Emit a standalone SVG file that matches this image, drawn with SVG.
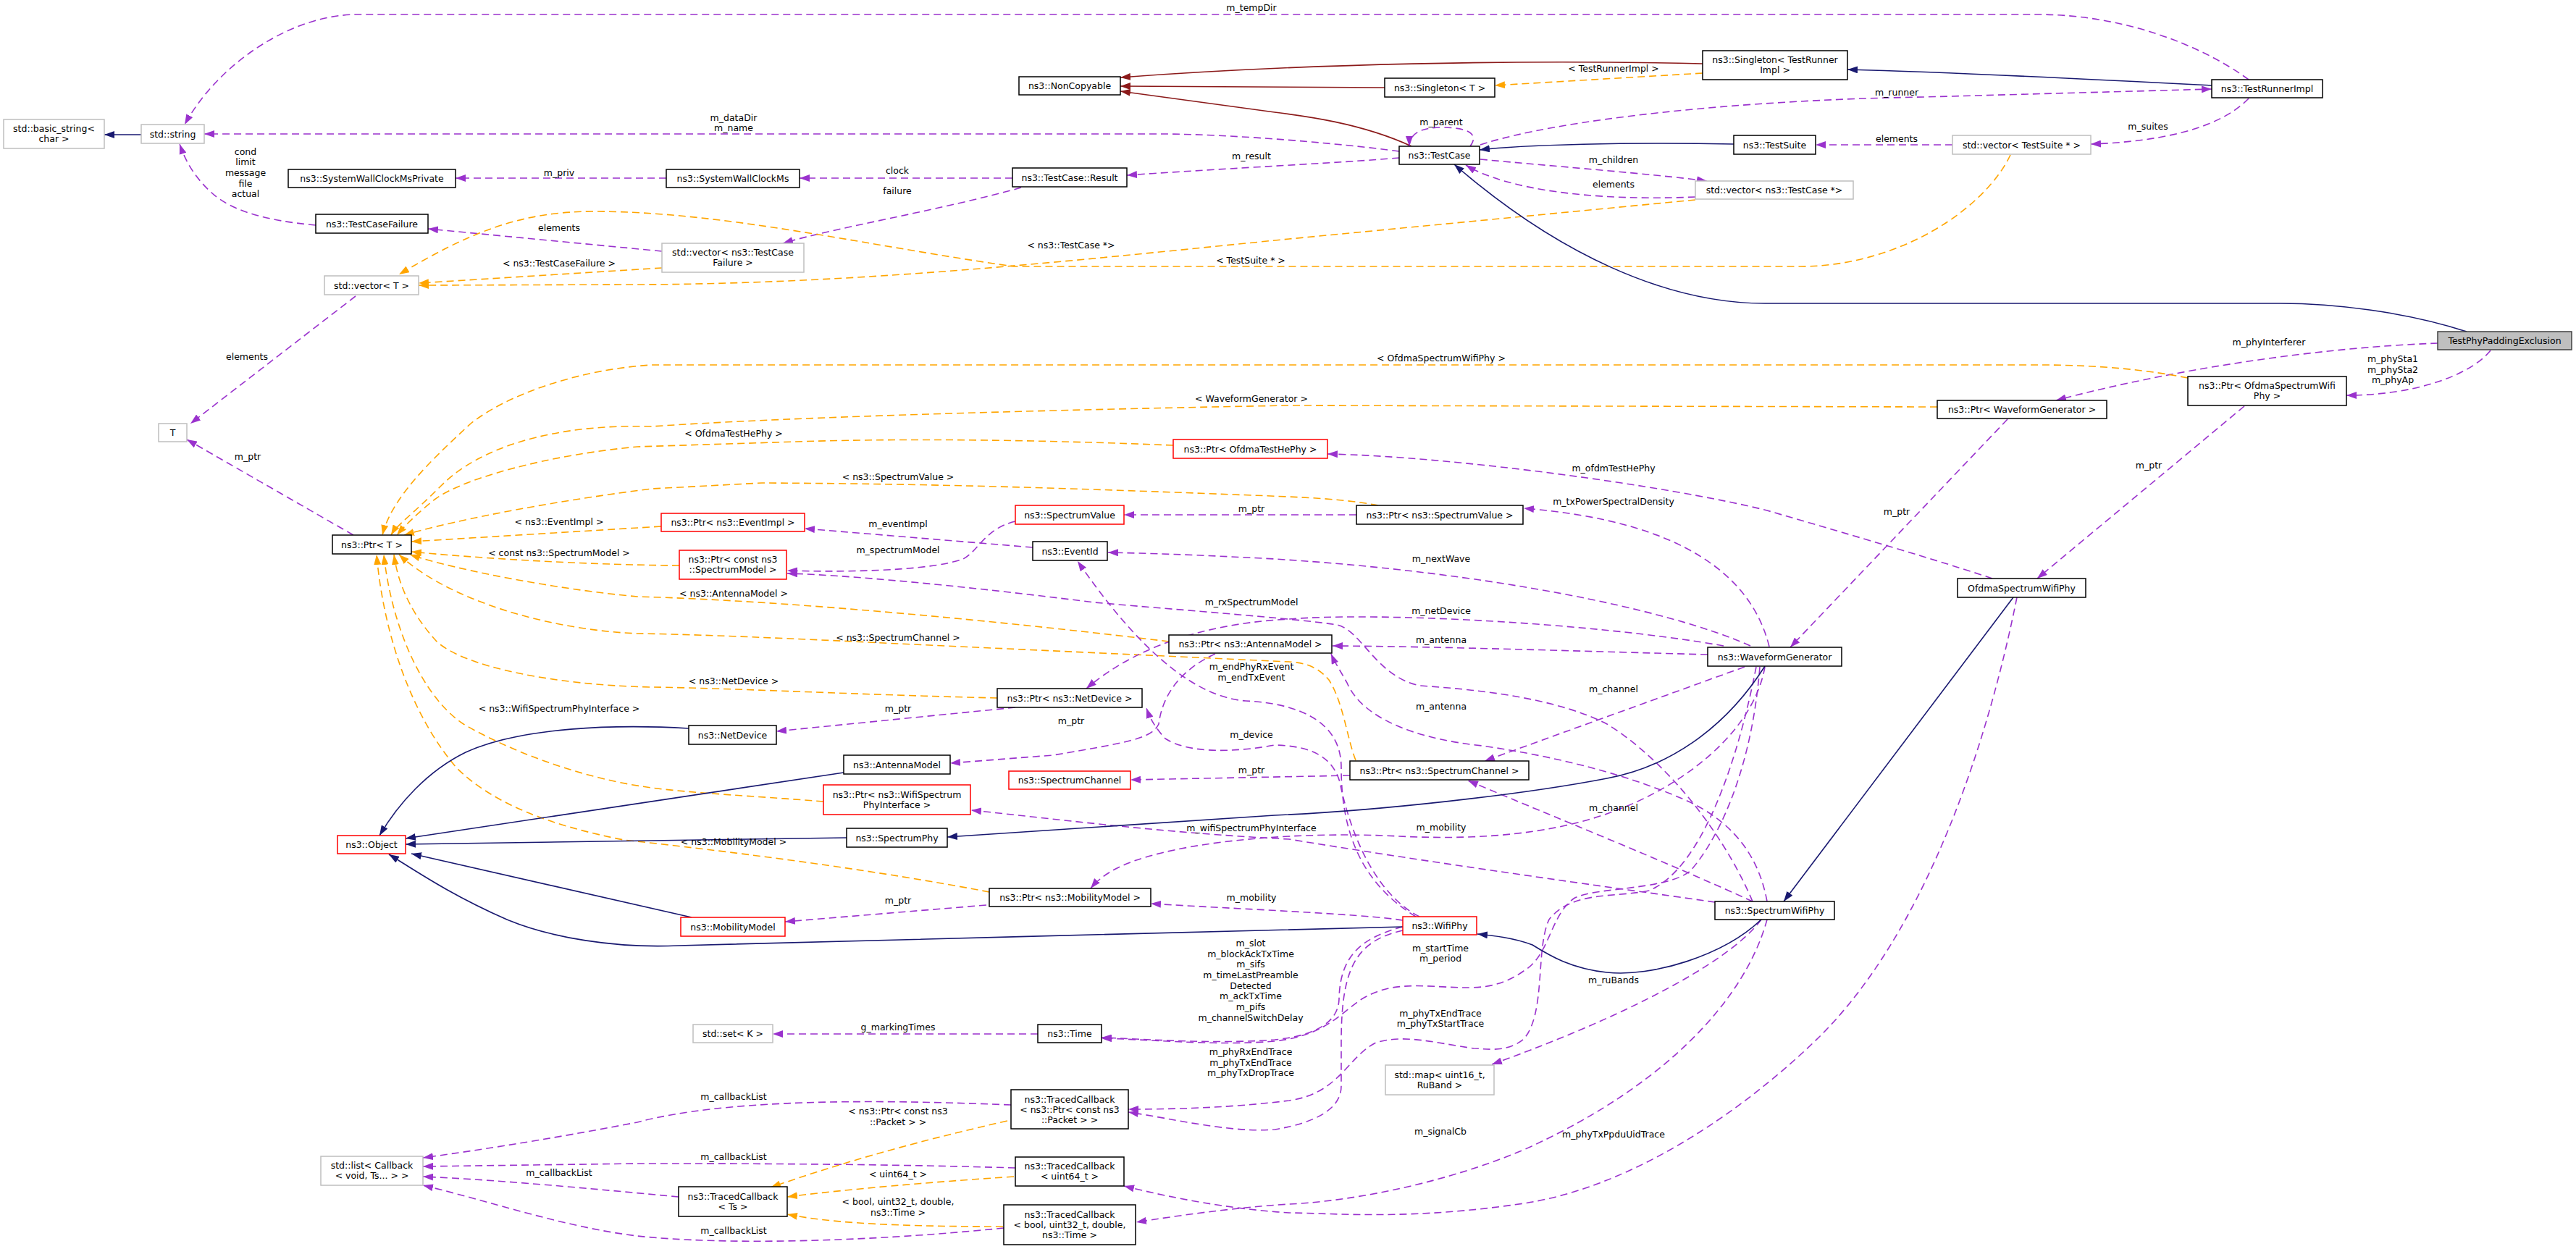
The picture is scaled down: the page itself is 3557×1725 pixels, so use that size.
<svg xmlns="http://www.w3.org/2000/svg" width="3557" height="1725" viewBox="0 0 3557 1725">
<style>
text{font-family:"DejaVu Sans","Liberation Sans",sans-serif;font-size:12.5px;fill:#000;text-anchor:middle}
.node rect{fill:#fff;stroke-width:1.5}
.k rect{stroke:#000}
.g rect{stroke:#bfbfbf}
.r rect{stroke:#ff0000}
.e path{fill:none;stroke-width:1.6}
.p{stroke:#9a32cd;stroke-dasharray:10,6;marker-end:url(#mp)}
.o{stroke:#ffa500;stroke-dasharray:10,6;marker-end:url(#mo)}
.b{stroke:#191970;marker-end:url(#mb)}
.d{stroke:#8b1a1a;marker-end:url(#md)}
</style>
<defs>
<marker id="mp" viewBox="0 0 14 10" refX="14" refY="5" markerWidth="14" markerHeight="10" markerUnits="userSpaceOnUse" orient="auto"><path d="M0,0L14,5L0,10z" fill="#9a32cd"/></marker>
<marker id="mo" viewBox="0 0 14 10" refX="14" refY="5" markerWidth="14" markerHeight="10" markerUnits="userSpaceOnUse" orient="auto"><path d="M0,0L14,5L0,10z" fill="#ffa500"/></marker>
<marker id="mb" viewBox="0 0 14 10" refX="14" refY="5" markerWidth="14" markerHeight="10" markerUnits="userSpaceOnUse" orient="auto"><path d="M0,0L14,5L0,10z" fill="#191970"/></marker>
<marker id="md" viewBox="0 0 14 10" refX="14" refY="5" markerWidth="14" markerHeight="10" markerUnits="userSpaceOnUse" orient="auto"><path d="M0,0L14,5L0,10z" fill="#8b1a1a"/></marker>
</defs>
<rect width="3557" height="1725" fill="#fff"/>
<g id="edges" class="e">
<path class="b" d="M195,186 L144,186"/>
<path class="p" d="M3105,110 C3040,62 2930,20 2815,20 L494,20 C400,20 300,90 255,172"/>
<path class="p" d="M1932,209 C1850,198 1700,185 1600,185 L282,185"/>
<path class="p" d="M436,311 C370,305 320,292 292,266 C268,244 256,222 248,199"/>
<path class="p" d="M920,246 L629,246"/>
<path class="p" d="M1398,246 L1104,246"/>
<path class="p" d="M1410,259 C1300,290 1150,315 1081,336"/>
<path class="p" d="M914,347 L591,316"/>
<path class="o" d="M914,370 L578,391"/>
<path class="p" d="M1932,218 C1850,225 1700,232 1556,242"/>
<path class="d" d="M2351,88 C2100,82 1800,88 1547,107"/>
<path class="d" d="M1912,121 L1547,119"/>
<path class="d" d="M1949,202 C1880,170 1800,160 1760,155 L1547,126"/>
<path class="o" d="M2351,101 L2064,118"/>
<path class="b" d="M3054,118 C2900,110 2700,100 2551,96"/>
<path class="p" d="M2044,200 C2150,165 2400,138 2656,134 L3054,123"/>
<path class="p" d="M2030,202 C2045,182 2020,176 1990,176 C1960,176 1946,186 1946,202"/>
<path class="b" d="M2394,199 C2250,196 2100,200 2043,207"/>
<path class="p" d="M2696,200 L2507,200"/>
<path class="p" d="M3105,136 C3070,172 3000,195 2887,199"/>
<path class="p" d="M2044,220 C2150,230 2280,240 2357,250"/>
<path class="p" d="M2341,272 C2200,278 2080,262 2024,228"/>
<path class="o" d="M2341,276 L1780,330 C1500,358 1200,392 880,393 L578,394"/>
<path class="o" d="M2776,214 C2740,290 2620,368 2486,368 L1400,368 C1200,340 1000,292 820,292 C720,292 650,320 551,379"/>
<path class="b" d="M3406,458 C3320,430 3220,419 3149,419 L2437,419 C2300,419 2150,350 2008,227"/>
<path class="p" d="M3366,474 C3200,480 3000,510 2839,553"/>
<path class="p" d="M3439,484 C3410,520 3330,546 3240,546"/>
<path class="o" d="M3021,522 C2950,508 2880,504 2815,504 L900,504 C800,510 700,545 650,585 C590,640 540,690 528,739"/>
<path class="o" d="M2675,562 L1780,560 C1500,565 1100,575 900,589 C760,585 660,620 610,670 C570,710 548,725 540,739"/>
<path class="o" d="M1620,615 C1400,606 1224,606 1100,610 L880,617 C760,628 640,660 600,690 C575,710 560,725 548,739"/>
<path class="o" d="M1903,698 C1860,690 1820,688 1780,686 C1500,675 1300,668 1052,667 L900,675 C780,690 640,715 558,739"/>
<path class="o" d="M913,727 L568,748"/>
<path class="o" d="M938,781 C800,780 650,770 568,762"/>
<path class="o" d="M1614,886 C1400,860 1100,830 880,824 C780,815 640,790 566,766"/>
<path class="o" d="M1872,1050 C1860,1020 1855,970 1835,939 C1815,915 1790,915 1780,914 L1240,889 C1100,882 960,876 880,875 C760,870 620,830 551,766"/>
<path class="o" d="M1377,964 C1200,960 1000,950 900,949 C760,946 640,920 603,886 C570,850 550,810 544,766"/>
<path class="o" d="M1137,1107 C1050,1100 950,1095 900,1088 C800,1075 700,1035 640,1000 C580,960 540,860 530,766"/>
<path class="o" d="M1366,1232 C1200,1200 1000,1175 861,1160 C760,1140 680,1110 630,1060 C570,990 530,880 520,766"/>
<path class="p" d="M488,739 L258,607"/>
<path class="p" d="M491,409 L263,585"/>
<path class="p" d="M1873,711 L1552,711"/>
<path class="p" d="M1426,756 L1111,730"/>
<path class="p" d="M1402,720 C1360,730 1352,760 1330,772 C1280,790 1150,790 1087,788"/>
<path class="p" d="M2420,1245 C2380,1150 2300,1050 2219,1000 C2150,965 2050,953 1961,947 C1900,935 1880,870 1846,863 C1800,855 1600,840 1511,832 C1400,818 1200,795 1087,792"/>
<path class="p" d="M2440,1245 C2430,1190 2400,1140 2334,1108 C2250,1070 2150,1045 2047,1030 C1950,1020 1880,990 1860,943 C1850,925 1843,915 1838,903"/>
<path class="p" d="M2420,1245 C2300,1190 2150,1130 2027,1078"/>
<path class="p" d="M2368,1246 C2200,1222 2000,1195 1780,1159 C1600,1150 1450,1130 1341,1119"/>
<path class="p" d="M2432,1270 C2380,1340 2200,1420 2060,1470"/>
<path class="p" d="M2440,1270 C2410,1380 2300,1500 2104,1588 C1980,1640 1850,1660 1780,1663 C1700,1668 1620,1680 1569,1688"/>
<path class="p" d="M2443,893 C2420,800 2330,720 2104,702"/>
<path class="p" d="M2417,892 C2300,840 2050,790 1760,772 C1650,766 1580,764 1530,763"/>
<path class="p" d="M2380,892 C2200,860 1900,845 1780,855 C1650,862 1560,900 1500,951"/>
<path class="p" d="M2358,904 C2200,900 2000,893 1840,892"/>
<path class="p" d="M2409,921 L2050,1051"/>
<path class="p" d="M2437,921 C2420,1020 2300,1110 2162,1140 C2080,1158 2000,1158 1932,1155 C1800,1148 1650,1160 1569,1188 C1540,1198 1520,1210 1506,1227"/>
<path class="p" d="M2430,921 C2420,1050 2380,1150 2334,1203 C2300,1230 2200,1225 2173,1241 C2140,1265 2140,1320 2104,1341 C2070,1365 2040,1364 2018,1364 C1960,1362 1921,1355 1880,1380 C1850,1400 1830,1430 1760,1438 C1680,1445 1580,1435 1521,1434"/>
<path class="p" d="M2425,921 C2400,1050 2350,1200 2277,1230 C2230,1240 2170,1230 2139,1270 C2120,1310 2135,1400 2104,1435 C2080,1455 2050,1448 2035,1448 C1980,1440 1940,1428 1900,1440 C1860,1460 1850,1510 1780,1520 C1700,1530 1620,1532 1558,1532"/>
<path class="p" d="M1955,1266 C1880,1220 1852,1150 1852,1060 C1852,1000 1800,972 1720,968 C1640,962 1560,880 1488,775"/>
<path class="p" d="M1960,1266 C1890,1230 1860,1130 1850,1080 C1840,1045 1810,1030 1760,1029 C1700,1040 1640,1040 1609,1020 C1595,1005 1588,992 1583,978"/>
<path class="p" d="M1937,1271 C1880,1262 1700,1255 1589,1248"/>
<path class="p" d="M1937,1280 C1880,1295 1850,1320 1849,1380 C1848,1410 1820,1430 1760,1436 C1680,1442 1600,1436 1521,1433"/>
<path class="p" d="M1937,1285 C1870,1300 1852,1340 1852,1440 L1852,1500 C1852,1530 1820,1550 1760,1560 C1700,1565 1620,1545 1558,1536"/>
<path class="p" d="M2751,799 C2680,775 2560,740 2440,705 C2300,670 2000,630 1833,627"/>
<path class="p" d="M2785,825 C2740,1050 2650,1300 2506,1438 C2400,1540 2250,1640 2104,1662 C1950,1685 1850,1676 1780,1675 C1700,1670 1620,1655 1552,1638"/>
<path class="b" d="M2780,825 L2463,1245"/>
<path class="b" d="M2437,920 C2380,1010 2300,1060 2219,1075 C2100,1098 1900,1120 1760,1126 L1308,1156"/>
<path class="b" d="M2432,1270 C2380,1320 2280,1350 2219,1343 C2170,1338 2140,1320 2116,1305 C2090,1295 2060,1292 2040,1290"/>
<path class="b" d="M1937,1280 C1700,1287 1200,1298 937,1306 C850,1310 760,1295 700,1270 C620,1235 570,1200 537,1180"/>
<path class="b" d="M1169,1157 L560,1166"/>
<path class="b" d="M1165,1067 L560,1158"/>
<path class="b" d="M951,1006 C850,1000 720,1004 643,1039 C590,1065 550,1110 524,1154"/>
<path class="b" d="M955,1267 L568,1179"/>
<path class="p" d="M1362,1250 L1084,1273"/>
<path class="p" d="M1402,977 L1072,1010"/>
<path class="p" d="M1678,903 C1630,925 1605,960 1600,1000 C1590,1020 1560,1025 1454,1043 L1312,1054"/>
<path class="p" d="M1864,1071 L1561,1077"/>
<path class="p" d="M2772,579 L2472,894"/>
<path class="p" d="M3099,561 L2813,799"/>
<path class="p" d="M1433,1428 L1067,1428"/>
<path class="p" d="M1396,1526 C1200,1518 1000,1518 880,1550 C750,1575 650,1590 584,1599"/>
<path class="p" d="M1402,1613 C1200,1607 1000,1607 880,1607 L584,1611"/>
<path class="p" d="M937,1653 C850,1645 700,1630 584,1625"/>
<path class="p" d="M1386,1696 C1200,1715 1000,1720 880,1707 C780,1695 680,1660 584,1637"/>
<path class="o" d="M1391,1548 C1250,1580 1150,1610 1064,1640"/>
<path class="o" d="M1400,1625 C1250,1635 1150,1645 1087,1653"/>
<path class="o" d="M1385,1694 C1250,1694 1150,1690 1087,1677"/>
</g>
<g id="labels">
<text x="1728" y="15">m_tempDir</text>
<text x="1013" y="167">m_dataDir</text><text x="1013" y="181">m_name</text>
<text x="339" y="214">cond</text><text x="339" y="228">limit</text><text x="339" y="243">message</text><text x="339" y="258">file</text><text x="339" y="272">actual</text>
<text x="772" y="243">m_priv</text>
<text x="1239" y="240">clock</text>
<text x="1239" y="268">failure</text>
<text x="1728" y="220">m_result</text>
<text x="772" y="319">elements</text>
<text x="772" y="368">&lt; ns3::TestCaseFailure &gt;</text>
<text x="1479" y="343">&lt; ns3::TestCase *&gt;</text>
<text x="1727" y="364">&lt; TestSuite * &gt;</text>
<text x="2228" y="99">&lt; TestRunnerImpl &gt;</text>
<text x="2619" y="132">m_runner</text>
<text x="1990" y="173">m_parent</text>
<text x="2619" y="196">elements</text>
<text x="2228" y="225">m_children</text>
<text x="2228" y="259">elements</text>
<text x="2966" y="179">m_suites</text>
<text x="341" y="497">elements</text>
<text x="342" y="635">m_ptr</text>
<text x="1990" y="499">&lt; OfdmaSpectrumWifiPhy &gt;</text>
<text x="1728" y="555">&lt; WaveformGenerator &gt;</text>
<text x="3133" y="477">m_phyInterferer</text>
<text x="3304" y="500">m_phySta1</text><text x="3304" y="515">m_phySta2</text><text x="3304" y="529">m_phyAp</text>
<text x="1013" y="603">&lt; OfdmaTestHePhy &gt;</text>
<text x="2228" y="651">m_ofdmTestHePhy</text>
<text x="1240" y="663">&lt; ns3::SpectrumValue &gt;</text>
<text x="2228" y="697">m_txPowerSpectralDensity</text>
<text x="1728" y="707">m_ptr</text>
<text x="2619" y="711">m_ptr</text>
<text x="2967" y="647">m_ptr</text>
<text x="772" y="725">&lt; ns3::EventImpl &gt;</text>
<text x="1240" y="728">m_eventImpl</text>
<text x="1240" y="764">m_spectrumModel</text>
<text x="772" y="768">&lt; const ns3::SpectrumModel &gt;</text>
<text x="1990" y="776">m_nextWave</text>
<text x="1013" y="824">&lt; ns3::AntennaModel &gt;</text>
<text x="1728" y="836">m_rxSpectrumModel</text>
<text x="1990" y="848">m_netDevice</text>
<text x="1240" y="885">&lt; ns3::SpectrumChannel &gt;</text>
<text x="1990" y="888">m_antenna</text>
<text x="1728" y="925">m_endPhyRxEvent</text><text x="1728" y="940">m_endTxEvent</text>
<text x="1013" y="945">&lt; ns3::NetDevice &gt;</text>
<text x="2228" y="956">m_channel</text>
<text x="1990" y="980">m_antenna</text>
<text x="772" y="983">&lt; ns3::WifiSpectrumPhyInterface &gt;</text>
<text x="1240" y="983">m_ptr</text>
<text x="1479" y="1000">m_ptr</text>
<text x="1728" y="1019">m_device</text>
<text x="1728" y="1068">m_ptr</text>
<text x="2228" y="1120">m_channel</text>
<text x="1728" y="1148">m_wifiSpectrumPhyInterface</text>
<text x="1990" y="1147">m_mobility</text>
<text x="1013" y="1167">&lt; ns3::MobilityModel &gt;</text>
<text x="1728" y="1244">m_mobility</text>
<text x="1240" y="1248">m_ptr</text>
<text x="1727" y="1307">m_slot</text><text x="1727" y="1322">m_blockAckTxTime</text><text x="1727" y="1336">m_sifs</text><text x="1727" y="1351">m_timeLastPreamble</text><text x="1727" y="1366">Detected</text><text x="1727" y="1380">m_ackTxTime</text><text x="1727" y="1395">m_pifs</text><text x="1727" y="1410">m_channelSwitchDelay</text>
<text x="1989" y="1314">m_startTime</text><text x="1989" y="1328">m_period</text>
<text x="2228" y="1358">m_ruBands</text>
<text x="1989" y="1404">m_phyTxEndTrace</text><text x="1989" y="1418">m_phyTxStartTrace</text>
<text x="1240" y="1423">g_markingTimes</text>
<text x="1727" y="1457">m_phyRxEndTrace</text><text x="1727" y="1472">m_phyTxEndTrace</text><text x="1727" y="1486">m_phyTxDropTrace</text>
<text x="1013" y="1519">m_callbackList</text>
<text x="1240" y="1539">&lt; ns3::Ptr&lt; const ns3</text><text x="1240" y="1554">::Packet &gt; &gt;</text>
<text x="1989" y="1567">m_signalCb</text>
<text x="2228" y="1571">m_phyTxPpduUidTrace</text>
<text x="1013" y="1602">m_callbackList</text>
<text x="772" y="1624">m_callbackList</text>
<text x="1240" y="1626">&lt; uint64_t &gt;</text>
<text x="1240" y="1664">&lt; bool, uint32_t, double,</text><text x="1240" y="1679">ns3::Time &gt;</text>
<text x="1013" y="1704">m_callbackList</text>
</g>
<g id="n_basic_string" class="node g"><rect x="5" y="165" width="139" height="40"/><text x="74.5" y="182">std::basic_string&lt;</text><text x="74.5" y="196">char &gt;</text></g>
<g id="n_string" class="node g"><rect x="195" y="172" width="87" height="26"/><text x="238.5" y="189.5">std::string</text></g>
<g id="n_swcmp" class="node k"><rect x="398" y="234" width="231" height="25"/><text x="513.5" y="251">ns3::SystemWallClockMsPrivate</text></g>
<g id="n_tcf" class="node k"><rect x="436" y="296" width="155" height="26"/><text x="513.5" y="313.5">ns3::TestCaseFailure</text></g>
<g id="n_vectorT" class="node g"><rect x="448" y="381" width="130" height="26"/><text x="513" y="398.5">std::vector&lt; T &gt;</text></g>
<g id="n_T" class="node g"><rect x="219" y="585" width="39" height="25"/><text x="238.5" y="602">T</text></g>
<g id="n_ptrT" class="node k"><rect x="459" y="739" width="109" height="26"/><text x="513.5" y="756.5">ns3::Ptr&lt; T &gt;</text></g>
<g id="n_object" class="node r"><rect x="466" y="1154" width="94" height="25"/><text x="513" y="1171">ns3::Object</text></g>
<g id="n_list" class="node g"><rect x="443" y="1597" width="141" height="40"/><text x="513.5" y="1614">std::list&lt; Callback</text><text x="513.5" y="1628">&lt; void, Ts... &gt; &gt;</text></g>
<g id="n_swcm" class="node k"><rect x="920" y="234" width="184" height="25"/><text x="1012" y="251">ns3::SystemWallClockMs</text></g>
<g id="n_vectorTCF" class="node g"><rect x="914" y="336" width="196" height="40"/><text x="1012" y="353">std::vector&lt; ns3::TestCase</text><text x="1012" y="367">Failure &gt;</text></g>
<g id="n_noncopyable" class="node k"><rect x="1407" y="106" width="140" height="25"/><text x="1477" y="123">ns3::NonCopyable</text></g>
<g id="n_result" class="node k"><rect x="1398" y="232" width="158" height="26"/><text x="1477" y="249.5">ns3::TestCase::Result</text></g>
<g id="n_singletonTRI" class="node k"><rect x="2351" y="70" width="200" height="40"/><text x="2451" y="87">ns3::Singleton&lt; TestRunner</text><text x="2451" y="101">Impl &gt;</text></g>
<g id="n_singletonT" class="node k"><rect x="1912" y="108" width="152" height="26"/><text x="1988" y="125.5">ns3::Singleton&lt; T &gt;</text></g>
<g id="n_testcase" class="node k"><rect x="1932" y="202" width="111" height="25"/><text x="1987.5" y="219">ns3::TestCase</text></g>
<g id="n_testsuite" class="node k"><rect x="2394" y="187" width="113" height="26"/><text x="2450.5" y="204.5">ns3::TestSuite</text></g>
<g id="n_vectorTC" class="node g"><rect x="2341" y="250" width="218" height="25"/><text x="2450" y="267">std::vector&lt; ns3::TestCase *&gt;</text></g>
<g id="n_runnerimpl" class="node k"><rect x="3054" y="110" width="153" height="25"/><text x="3130.5" y="127">ns3::TestRunnerImpl</text></g>
<g id="n_vectorTS" class="node g"><rect x="2696" y="187" width="191" height="26"/><text x="2791.5" y="204.5">std::vector&lt; TestSuite * &gt;</text></g>
<g id="n_tppe" class="node k"><rect x="3366" y="458" width="185" height="25" style="fill:#bfbfbf;stroke:#404040"/><text x="3458.5" y="475">TestPhyPaddingExclusion</text></g>
<g id="n_ptrOSWP" class="node k"><rect x="3021" y="520" width="219" height="40"/><text x="3130.5" y="537">ns3::Ptr&lt; OfdmaSpectrumWifi</text><text x="3130.5" y="551">Phy &gt;</text></g>
<g id="n_ptrWG" class="node k"><rect x="2675" y="553" width="234" height="25"/><text x="2792" y="570">ns3::Ptr&lt; WaveformGenerator &gt;</text></g>
<g id="n_ptrOTHP" class="node r"><rect x="1620" y="607" width="213" height="26"/><text x="1726.5" y="624.5">ns3::Ptr&lt; OfdmaTestHePhy &gt;</text></g>
<g id="n_spectrumvalue" class="node r"><rect x="1402" y="698" width="150" height="26"/><text x="1477" y="715.5">ns3::SpectrumValue</text></g>
<g id="n_ptrEventImpl" class="node r"><rect x="913" y="709" width="198" height="25"/><text x="1012" y="726">ns3::Ptr&lt; ns3::EventImpl &gt;</text></g>
<g id="n_eventid" class="node k"><rect x="1426" y="748" width="103" height="26"/><text x="1477.5" y="765.5">ns3::EventId</text></g>
<g id="n_ptrSM" class="node r"><rect x="938" y="760" width="148" height="40"/><text x="1012" y="777">ns3::Ptr&lt; const ns3</text><text x="1012" y="791">::SpectrumModel &gt;</text></g>
<g id="n_ptrSV" class="node k"><rect x="1873" y="698" width="230" height="26"/><text x="1988" y="715.5">ns3::Ptr&lt; ns3::SpectrumValue &gt;</text></g>
<g id="n_ptrAM" class="node k"><rect x="1614" y="877" width="225" height="25"/><text x="1726.5" y="894">ns3::Ptr&lt; ns3::AntennaModel &gt;</text></g>
<g id="n_wg" class="node k"><rect x="2358" y="894" width="185" height="26"/><text x="2450.5" y="911.5">ns3::WaveformGenerator</text></g>
<g id="n_oswp" class="node k"><rect x="2703" y="799" width="177" height="26"/><text x="2791.5" y="816.5">OfdmaSpectrumWifiPhy</text></g>
<g id="n_ptrND" class="node k"><rect x="1377" y="951" width="200" height="26"/><text x="1477" y="968.5">ns3::Ptr&lt; ns3::NetDevice &gt;</text></g>
<g id="n_netdevice" class="node k"><rect x="951" y="1002" width="121" height="26"/><text x="1011.5" y="1019.5">ns3::NetDevice</text></g>
<g id="n_antenna" class="node k"><rect x="1165" y="1043" width="147" height="26"/><text x="1238.5" y="1060.5">ns3::AntennaModel</text></g>
<g id="n_spectrumchannel" class="node r"><rect x="1393" y="1065" width="168" height="25"/><text x="1477" y="1082">ns3::SpectrumChannel</text></g>
<g id="n_ptrSC" class="node k"><rect x="1864" y="1051" width="247" height="26"/><text x="1987.5" y="1068.5">ns3::Ptr&lt; ns3::SpectrumChannel &gt;</text></g>
<g id="n_ptrWSPI" class="node r"><rect x="1137" y="1084" width="203" height="41"/><text x="1238.5" y="1101.5">ns3::Ptr&lt; ns3::WifiSpectrum</text><text x="1238.5" y="1115.5">PhyInterface &gt;</text></g>
<g id="n_spectrumphy" class="node k"><rect x="1169" y="1144" width="139" height="26"/><text x="1238.5" y="1161.5">ns3::SpectrumPhy</text></g>
<g id="n_ptrMM" class="node k"><rect x="1366" y="1227" width="223" height="25"/><text x="1477.5" y="1244">ns3::Ptr&lt; ns3::MobilityModel &gt;</text></g>
<g id="n_mobility" class="node r"><rect x="940" y="1267" width="144" height="26"/><text x="1012" y="1284.5">ns3::MobilityModel</text></g>
<g id="n_wifiphy" class="node r"><rect x="1937" y="1266" width="102" height="25"/><text x="1988" y="1283">ns3::WifiPhy</text></g>
<g id="n_swp" class="node k"><rect x="2368" y="1245" width="165" height="25"/><text x="2450.5" y="1262">ns3::SpectrumWifiPhy</text></g>
<g id="n_set" class="node g"><rect x="957" y="1415" width="110" height="25"/><text x="1012" y="1432">std::set&lt; K &gt;</text></g>
<g id="n_time" class="node k"><rect x="1433" y="1415" width="88" height="25"/><text x="1477" y="1432">ns3::Time</text></g>
<g id="n_map" class="node g"><rect x="1913" y="1471" width="150" height="41"/><text x="1988" y="1488.5">std::map&lt; uint16_t,</text><text x="1988" y="1502.5">RuBand &gt;</text></g>
<g id="n_tcPacket" class="node k"><rect x="1396" y="1505" width="162" height="54"/><text x="1477" y="1522.5">ns3::TracedCallback</text><text x="1477" y="1536.5">&lt; ns3::Ptr&lt; const ns3</text><text x="1477" y="1550.5">::Packet &gt; &gt;</text></g>
<g id="n_tcU64" class="node k"><rect x="1402" y="1598" width="150" height="40"/><text x="1477" y="1615">ns3::TracedCallback</text><text x="1477" y="1629">&lt; uint64_t &gt;</text></g>
<g id="n_tcTs" class="node k"><rect x="937" y="1639" width="150" height="41"/><text x="1012" y="1656.5">ns3::TracedCallback</text><text x="1012" y="1670.5">&lt; Ts &gt;</text></g>
<g id="n_tcBool" class="node k"><rect x="1386" y="1664" width="182" height="55"/><text x="1477" y="1681.5">ns3::TracedCallback</text><text x="1477" y="1695.5">&lt; bool, uint32_t, double,</text><text x="1477" y="1709.5">ns3::Time &gt;</text></g>
</svg>
